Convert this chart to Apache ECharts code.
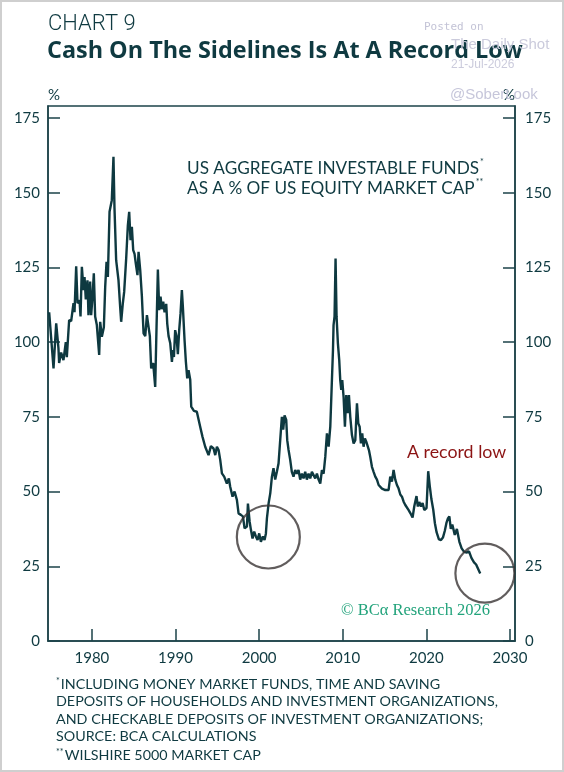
<!DOCTYPE html>
<html>
<head>
<meta charset="utf-8">
<script src="https://cdn.jsdelivr.net/npm/echarts@6/dist/echarts.min.js"></script>
<style>
html,body{margin:0;padding:0;background:#fff;}
#c{width:564px;height:772px;}
</style>
</head>
<body>
<div id="c"></div>
<script>
// ---- data ----
const years = [
1974.89,1975.41,1975.73,1976.00,1976.08,1976.32,1976.60,1976.88,1977.00,1977.28,1977.52,1977.80,1977.92,
1978.12,1978.28,1978.52,1978.64,1978.80,1979.00,1979.12,1979.27,1979.47,1979.59,1979.79,1979.91,
1980.07,1980.23,1980.39,1980.59,1980.87,1980.99,1981.19,1981.43,1981.59,1981.75,1981.91,
1982.11,1982.27,1982.38,1982.58,1982.70,1982.90,1983.18,1983.38,1983.50,1983.70,1983.86,
1984.10,1984.30,1984.46,1984.62,1984.78,1984.94,1985.10,1985.26,1985.45,1985.58,1985.78,1985.98,
1986.18,1986.38,1986.58,1986.77,1986.93,1987.09,1987.33,1987.57,1987.73,1987.89,
1988.05,1988.21,1988.37,1988.53,1988.69,1988.89,1989.01,1989.17,1989.37,1989.57,1989.69,1989.81,1989.96,
1990.12,1990.28,1990.44,1990.60,1990.76,1990.88,1991.08,1991.24,1991.40,1991.56,1991.76,1991.88,
1992.04,1992.20,1992.55,1992.95,1993.23,1993.55,1993.95,1994.23,1994.55,1994.75,1994.95,
1995.15,1995.35,1995.55,1995.82,1996.14,1996.38,1996.54,1996.82,1997.06,1997.34,1997.54,1997.82,
1998.06,1998.26,1998.54,1998.66,1998.86,1999.02,1999.21,1999.41,1999.61,1999.81,
2000.01,2000.21,2000.45,2000.65,2000.81,2000.93,2001.13,2001.33,2001.53,2001.72,2001.92,
2002.12,2002.32,2002.52,2002.72,2002.88,2003.04,2003.24,2003.36,2003.52,2003.72,2003.91,
2004.11,2004.31,2004.51,2004.71,2004.91,2005.11,2005.31,2005.51,2005.71,2005.91,
2006.11,2006.31,2006.51,2006.71,2006.91,2007.11,2007.31,2007.51,2007.71,2007.91,
2008.11,2008.31,2008.51,2008.71,2008.83,2008.90,2009.02,2009.14,2009.26,2009.42,2009.58,2009.70,2009.82,2009.94,
2010.10,2010.26,2010.42,2010.58,2010.74,2010.90,2011.10,2011.30,2011.50,2011.70,2011.86,
2012.02,2012.17,2012.33,2012.49,2012.65,2012.81,2012.97,2013.13,2013.29,2013.49,2013.69,2013.89,
2014.09,2014.29,2014.49,2014.69,2014.89,2015.09,2015.28,2015.48,2015.68,2015.88,
2016.08,2016.28,2016.48,2016.68,2016.88,2017.08,2017.28,2017.48,2017.68,2017.88,
2018.08,2018.35,2018.55,2018.82,2018.98,2019.15,2019.35,2019.55,2019.75,2020.02,
2020.22,2020.40,2020.60,2020.82,2021.02,2021.22,2021.50,2021.75,2021.98,
2022.20,2022.40,2022.58,2022.75,2022.92,2023.10,2023.40,2023.65,2023.95,
2024.22,2024.52,2024.82,2025.10,2025.40,2025.70,2025.95,2026.15,2026.44
];
const values = [
110,91.2,106.3,98,93,96.5,94,100,95,107.4,107,113,110,
125.4,113,114,108.6,125.2,117.4,121.8,114.3,120.7,109,120.3,109,
115,123,108.6,105.7,95.7,106.8,101.8,105,118.5,126.9,121.8,
143.6,143.9,147.5,162,145,127.4,120.7,111.8,106.8,113,116.8,
128,139.1,143.6,134.1,138.6,130.8,129.5,126.1,122.4,130.2,124,115.2,
102.9,102,109,109.4,102,91.2,93,85,105,124.3,
110.7,115.2,111,113.5,110,112.8,106.2,102,99.6,93.4,97.3,95,104,
102,96,104,109.6,117.4,111.8,100.7,93.4,87.9,90.6,87.4,78.4,
79,77,76.7,71.7,68.3,65,62.2,65.2,64.4,62.2,65,
63.9,60.5,56.1,55,52.7,54.4,51.6,48.3,50,47.2,42.7,42.2,
41.7,37.7,38.3,46,40,37.2,34.3,36.6,35,33.8,
36,33.2,35,33.8,36,41,46,49.4,55,57.8,54,
56.6,59.4,67.2,75,70.7,75.5,74,67.2,63.9,60.5,56.6,
55,57.2,56,57.2,54,56,54.4,56.6,54,56,
54.4,56.6,57.2,54.4,56,54,52.7,57.2,56,61.6,
69.5,65,71.7,72,97.3,105.7,108.6,128,108.6,99.6,94,87.3,84,87.3,
81.7,71.7,82.3,76.2,82.3,75,68.9,66.1,67.2,79.5,72.8,
71.7,66.1,69.5,65,67.8,66.7,66.1,63.9,61.6,58.3,56.6,55,
54,52.2,51.6,51,51.3,50.5,50,50.5,55,53.3,
57.2,54,52.2,51,49,48.3,46.6,45.5,45.5,43.8,
42.8,41.3,45,48.5,45,46.5,45,46.2,43.8,44.5,
56.8,52,47.5,44,39.4,36.4,34,33.8,34.6,
36.8,39.5,41,41.7,37.5,39,35.5,37.5,33.2,
31,29.8,29.6,30,27.7,26.3,25.6,26.2,22.6
];
const xTicks = [1980, 1990, 2000, 2010, 2020, 2030];
const yTicks = [0, 25, 50, 75, 100, 125, 150, 175];
const circleX = [2001.1, 2027.0];
const circleY = [34.8, 22.7];
const footLines = [
  'INCLUDING MONEY MARKET FUNDS, TIME AND SAVING',
  'DEPOSITS OF HOUSEHOLDS AND INVESTMENT ORGANIZATIONS,',
  'AND CHECKABLE DEPOSITS OF INVESTMENT ORGANIZATIONS;',
  'SOURCE: BCA CALCULATIONS',
  'WILSHIRE 5000 MARKET CAP'
];

const INK = '#0f3a41';
const AX = '#1d4349';
const SANS = 'Lato, "Open Sans", sans-serif';

const chart = echarts.init(document.getElementById('c'), null, {renderer: 'canvas'});
const lineData = years.map((y, i) => [y, values[i]]);
const circData = circleX.map((x, i) => [x, circleY[i]]);

function yAxisCfg(pos) {
  return {
    type: 'value', position: pos, min: 0, max: 179,
    name: '%', nameLocation: 'end', nameGap: 3,
    nameTextStyle: {color: INK, fontFamily: SANS, fontSize: 15, align: pos === 'left' ? 'left' : 'right', padding: 0},
    axisLine: {show: true, lineStyle: {color: AX, width: 1.5}},
    axisTick: {show: true, inside: true, length: 12, lineStyle: {color: AX, width: 1.5}, customValues: yTicks},
    axisLabel: {color: INK, fontFamily: SANS, fontSize: 15, margin: pos === 'left' ? 8 : 10, customValues: yTicks,
      formatter: v => String(v)},
    splitLine: {show: false}
  };
}

const footGraphics = footLines.map((t, i) => {
  let text;
  if (i === 0) text = '{s|*}{m|' + t + '}';
  else if (i === 4) text = '{s|**}{m|' + t + '}';
  else text = '{m|' + t + '}';
  return {
    type: 'text', left: 56, top: 677 + i * 17.6,
    style: {text: text, rich: {
      m: {fontFamily: SANS, fontSize: 14.3, fill: INK, color: INK},
      s: {fontFamily: SANS, fontSize: 9, fill: INK, color: INK, verticalAlign: 'top', padding: [0, 1, 6, 0]}
    }}
  };
});

chart.setOption({
  animation: false,
  backgroundColor: '#ffffff',
  grid: {left: 48, right: 49, top: 106, bottom: 131, show: true, borderColor: AX, borderWidth: 1.5},
  xAxis: {
    type: 'value', min: 1974.75, max: 2030.6,
    axisLine: {show: true, onZero: false, lineStyle: {color: AX, width: 1.5}},
    axisTick: {show: true, inside: true, length: 12, lineStyle: {color: AX, width: 1.5}, customValues: xTicks},
    axisLabel: {color: INK, fontFamily: SANS, fontSize: 15, margin: 10, customValues: xTicks, formatter: v => String(v)},
    splitLine: {show: false}
  },
  yAxis: [yAxisCfg('left'), yAxisCfg('right')],
  series: [
    {
      type: 'line', data: lineData, showSymbol: false, symbol: 'none',
      lineStyle: {color: '#0e3940', width: 2.4}, z: 3
    },
    {
      type: 'scatter', data: circData, symbol: 'circle',
      symbolSize: (v, p) => p.dataIndex === 0 ? 63 : 59,
      itemStyle: {color: 'rgba(0,0,0,0)', borderColor: '#3a3434', borderWidth: 2.2},
      z: 4, silent: true
    }
  ],
  graphic: [
    {type: 'rect', shape: {x: 1, y: 1, width: 562, height: 770}, style: {fill: 'none', stroke: '#cfcfcf', lineWidth: 2}, silent: true},
    {type: 'text', left: 48, top: 13, style: {text: 'CHART 9', font: '300 22px Roboto, sans-serif', fill: INK}},
    {type: 'text', left: 47, top: 40, style: {text: 'Cash On The Sidelines Is At A Record Low', font: 'bold 23.4px "Open Sans", sans-serif', fill: INK}},
    // watermark
    {type: 'text', left: 424, top: 22, style: {text: 'Posted on', font: '11px "DejaVu Sans Mono", monospace', fill: '#c3c3d6'}, z: 20},
    {type: 'text', left: 451, top: 37, style: {text: 'The Daily Shot', font: '15px "Liberation Sans", sans-serif', fill: '#cbcbdc'}, z: 20},
    {type: 'text', left: 451, top: 59, style: {text: '21-Jul-2026', font: '12px "Liberation Sans", sans-serif', fill: '#cbcbdc'}, z: 20},
    {type: 'text', left: 450, top: 87, style: {text: '@SoberLook', font: '15px "Liberation Sans", sans-serif', fill: '#c6c6da'}, z: 20},
    // annotation
    {type: 'text', left: 187, top: 158, style: {text: '{m|US AGGREGATE INVESTABLE FUNDS}{s|*}\n{m|AS A % OF US EQUITY MARKET CAP}{s|**}', rich: {
      m: {fontFamily: SANS, fontSize: 17.2, fill: INK, color: INK, lineHeight: 20},
      s: {fontFamily: SANS, fontSize: 9, fill: INK, color: INK, verticalAlign: 'top', lineHeight: 20, padding: [0, 0, 8, 1]}
    }}},
    {type: 'text', left: 407, top: 443, style: {text: 'A record low', font: '17.8px Lato, sans-serif', fill: '#8c1414'}},
    {type: 'text', left: 341, top: 602, style: {text: '© BCα Research 2026', font: '16.5px "Liberation Serif", "DejaVu Serif", serif', fill: '#22a37b'}},
    ...footGraphics
  ]
});
</script>
</body>
</html>
